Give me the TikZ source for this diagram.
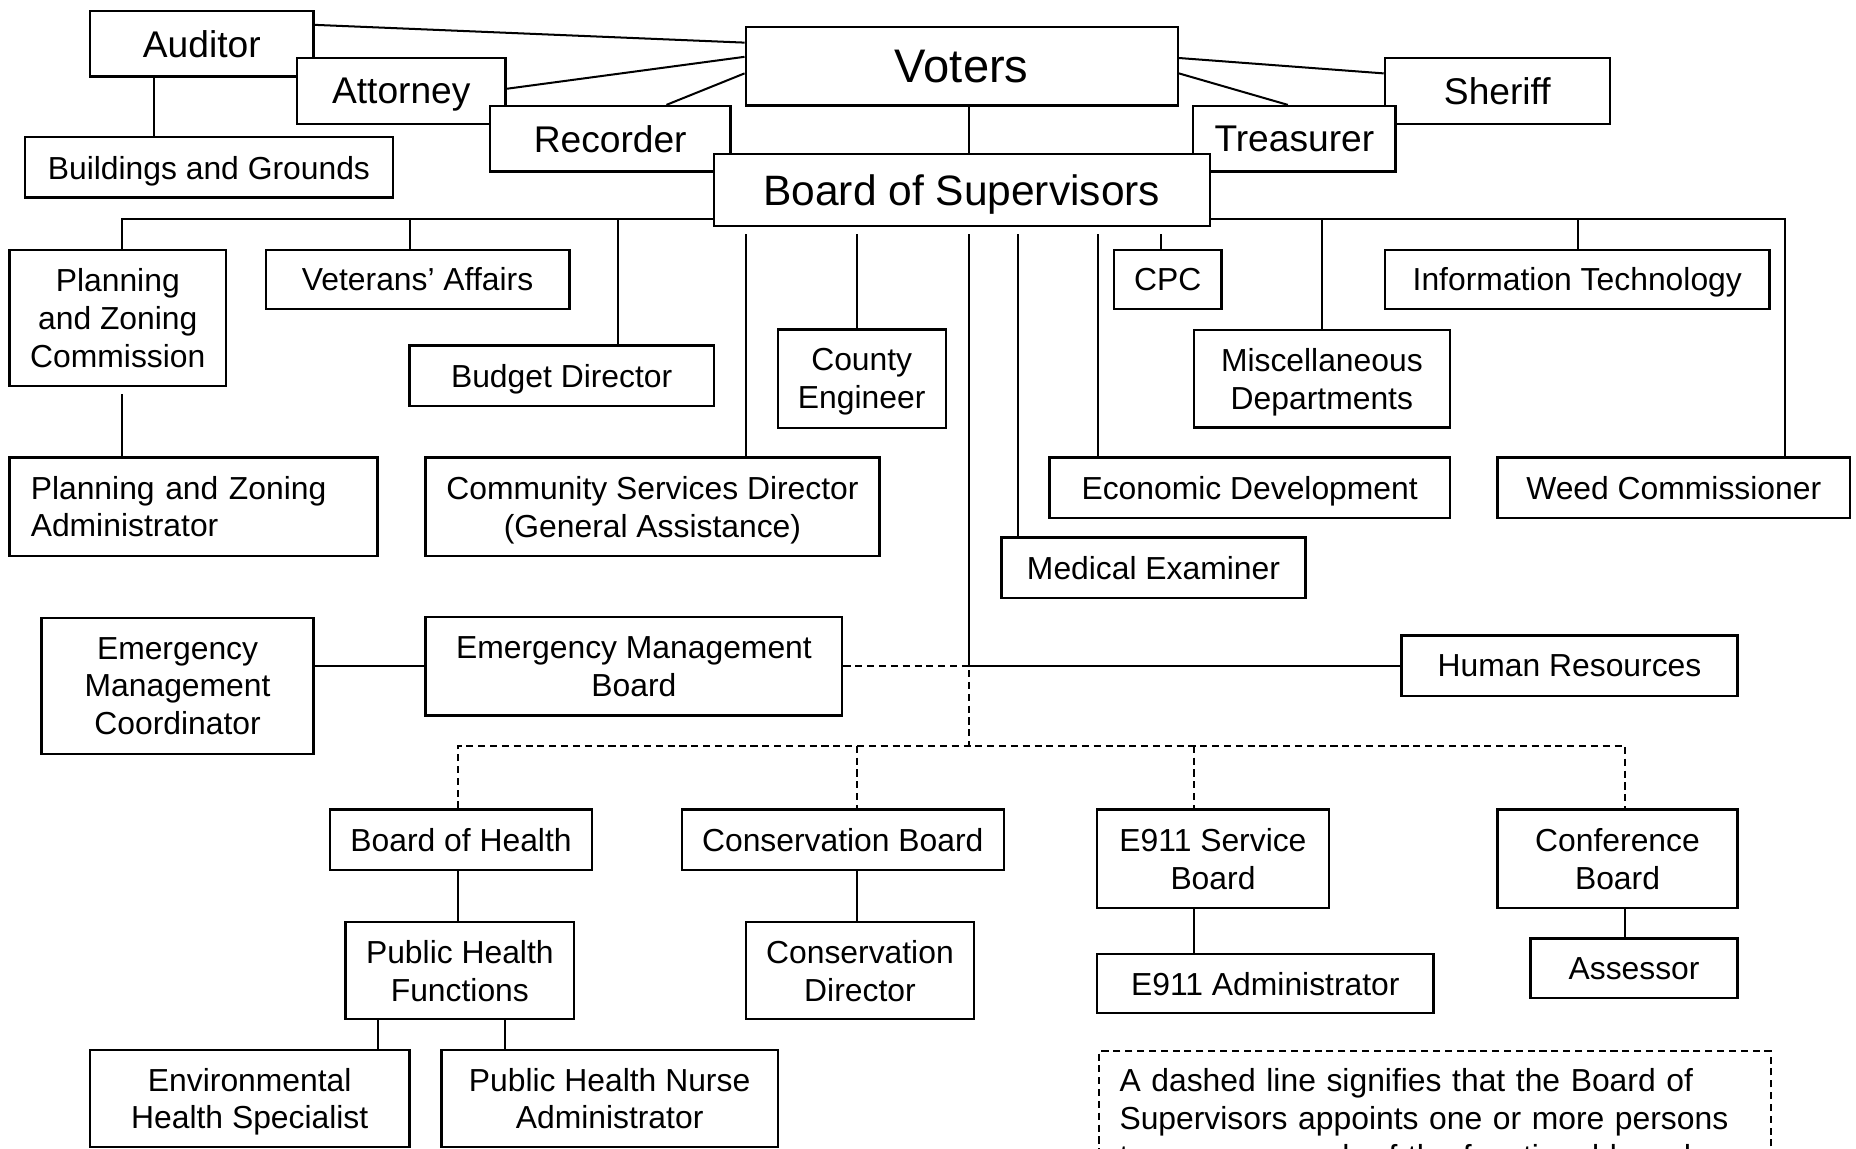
\documentclass[tikz,border=0pt]{standalone}
\usepackage{fontspec}
\setmainfont{Liberation Sans}

\newcommand{\chartfont}{\fontsize{26.9}{32}\selectfont}
\newcommand{\chartmid}{\fontsize{31.4}{36}\selectfont}
\newcommand{\chartboard}{\fontsize{35.9}{42}\selectfont}
\newcommand{\chartvoters}{\fontsize{39.8}{46}\selectfont}

\begin{document}
\begin{tikzpicture}[x=1pt, y=-1pt, font=\chartfont,
    frame/.style={draw, fill=white, line width=2pt, inner sep=0pt},
    box/.style={frame, align=center, text depth=0pt},
    dims/.style 2 args={minimum width=#1pt, minimum height=#2pt},
    link/.style={line width=1.7pt},
    appoint/.style={line width=1.6pt, dash pattern=on 6pt off 4pt}]
  \useasboundingbox (0,0) rectangle (1568,970);
  \clip (0,0) rectangle (1568,970);

  % elected offices
  \node[box, dims={189}{55}, font=\chartmid]     (auditor)   at (170.5,37)    {Auditor};
  \node[box, dims={176}{56}, font=\chartmid]     (attorney)  at (339,76.75)   {Attorney};
  \node[box, dims={203}{55.4}, font=\chartmid]   (recorder)  at (515.5,117.3) {Recorder};
  \node[box, dims={311}{51}]                     (buildings) at (176.5,141.5) {Buildings and Grounds};
  \node[box, dims={365}{66}, font=\chartvoters]  (voters)    at (812.5,56)    {Voters};
  \node[box, dims={190}{56}, font=\chartmid]     (sheriff)   at (1265,76.75)  {Sheriff};
  \node[box, dims={171}{55.4}, font=\chartmid]   (treasurer) at (1093.5,117.3){Treasurer};
  \node[box, dims={419}{61}, font=\chartboard]   (bos)       at (812.5,160.5) {Board of Supervisors};

  % offices under the board
  \node[box, dims={183}{115}]   (pzc)       at (99.5,268.5)   {Planning\\and Zoning\\Commission};
  \node[box, dims={256.5}{50}]  (veterans)  at (352.75,236)   {Veterans’ Affairs};
  \node[box, dims={257}{51}]    (budget)    at (474.5,317.5)  {Budget Director};
  \node[box, dims={142}{83}]    (county)    at (728,320)      {County\\Engineer};
  \node[box, dims={91}{50}]     (cpc)       at (986.5,236)    {CPC};
  \node[box, dims={216.5}{82.5}](misc)      at (1116.75,320)  {Miscellaneous\\Departments};
  \node[box, dims={325}{50}]    (it)        at (1332.5,236)   {Information Technology};
  \node[frame, dims={311}{83}, align=left, text width=275pt, inner xsep=18pt]
                                (pzadmin)   at (163.5,428)    {Planning and Zoning\\Administrator};
  \node[box, dims={383.6}{83}]  (community) at (551.2,428)    {Community Services Director\\(General Assistance)};
  \node[box, dims={338.5}{50.7}](econ)      at (1055.75,412)  {Economic Development};
  \node[box, dims={298}{50.7}]  (weed)      at (1414,412)     {Weed Commissioner};
  \node[box, dims={257}{51}]    (medical)   at (974.5,479.5)  {Medical Examiner};
  \node[box, dims={230}{115}]   (emc)       at (150,579.5)    {Emergency\\Management\\Coordinator};
  \node[box, dims={352}{83}]    (emb)       at (535.6,563)    {Emergency Management\\Board};
  \node[box, dims={284}{51}]    (hr)        at (1326,562.5)   {Human Resources};

  % appointed boards
  \node[box, dims={221}{51}]    (boh)       at (389.5,709.5)  {Board of Health};
  \node[box, dims={272}{51}]    (consb)     at (712,709.5)    {Conservation Board};
  \node[box, dims={195.5}{83}]  (e911sb)    at (1024.75,725.5){E911 Service\\Board};
  \node[box, dims={203}{83}]    (conf)      at (1366.5,725.5) {Conference\\Board};
  \node[box, dims={193}{82}]    (phf)       at (388.5,820)    {Public Health\\Functions};
  \node[box, dims={193}{82}]    (consdir)   at (726.5,820)    {Conservation\\Director};
  \node[box, dims={284}{50}]    (e911adm)   at (1069,831)     {E911 Administrator};
  \node[box, dims={175}{50}]    (assessor)  at (1380.5,818)   {Assessor};
  \node[box, dims={270}{82}]    (env)       at (211,928)      {Environmental\\Health Specialist};
  \node[box, dims={284}{82}]    (phn)       at (515,928)      {Public Health Nurse\\Administrator};

  \node[frame, appoint, anchor=north west, align=left, text width=533pt, inner xsep=17pt, inner ysep=15pt]
    (note) at (928,887) {A dashed line signifies that the Board of\\Supervisors appoints one or more persons\\to serve on each of the functional boards};

  \coordinate (lbus)    at ([yshift=7pt]bos.south west);
  \coordinate (rbus)    at ([yshift=7pt]bos.south east);
  \coordinate (bosfoot) at ([yshift=-6pt]bos.south);
  \coordinate (hub)     at (hr.west -| 819,0);
  \coordinate (split)   at (819,630);

  % voters
  \draw[link] (auditor.east |- 0,21) -- (voters.west |- 0,36);
  \draw[link] (attorney.east |- 0,75) -- (voters.west |- 0,48);
  \draw[link] (recorder.north -| 563,0) -- (voters.west |- 0,62);
  \draw[link] (voters.east |- 0,49) -- (sheriff.west |- 0,62);
  \draw[link] (voters.east |- 0,62) -- (treasurer.north -| 1088,0);
  \draw[link] (voters.south -| 819,0) -- (bos.north -| 819,0);
  \draw[link] (auditor.south -| 130,0) -- (buildings.north -| 130,0);

  % board of supervisors
  \draw[link] (lbus) -| (pzc.north -| 103,0);
  \draw[link] (rbus) -| (weed.north -| 1508,0);
  \foreach \n/\x in {veterans/346, budget/522}
    \draw[link] (lbus -| \x,0) -- (\n.north -| \x,0);
  \foreach \n/\x in {misc/1116.5, it/1333}
    \draw[link] (rbus -| \x,0) -- (\n.north -| \x,0);
  \foreach \n/\x in {community/630, county/724, medical/860, econ/928, cpc/981}
    \draw[link] (bosfoot -| \x,0) -- (\n.north -| \x,0);
  \draw[link] (bosfoot -| hub) -- (hub) -- (hr.west);
  \draw[link] (pzc.south -| 103,0) ++(0,6) -- (pzadmin.north -| 103,0);
  \draw[link] (emc.east |- hub) -- (emb.west |- hub);

  % appointments
  \draw[appoint] (emb.east |- hub) -- (hub) -- (split);
  \draw[appoint] (boh.north -| 387,0) |- (split) -| (conf.north -| 1373,0);
  \foreach \n/\x in {consb/724, e911sb/1009}
    \draw[appoint] (split -| \x,0) -- (\n.north -| \x,0);

  \foreach \a/\b/\x in {boh/phf/387, consb/consdir/724, e911sb/e911adm/1009,
                        conf/assessor/1373, phf/env/319, phf/phn/427}
    \draw[link] (\a.south -| \x,0) -- (\b.north -| \x,0);
\end{tikzpicture}
\end{document}
